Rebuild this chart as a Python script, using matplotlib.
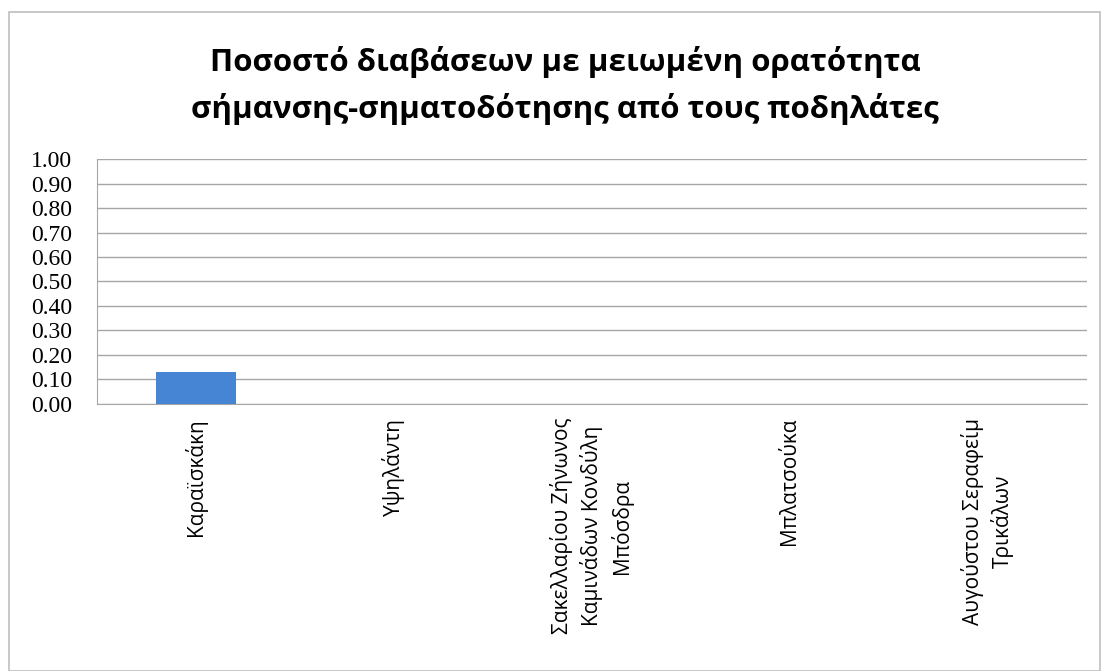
import matplotlib.pyplot as plt
from matplotlib.patches import Rectangle

# Διασταυρώσεις και ποσοστό με μειωμένη ορατότητα
diaviseis = ['Καραϊσκάκη', 'Υψηλάντη',
             'Σακελλαρίου Ζήνωνος\nΚαμινάδων Κονδύλη\nΜπόσδρα',
             'Μπλατσούκα', 'Αυγούστου Σεραφείμ\nΤρικάλων']
pososto = [0.13, 0.0, 0.0, 0.0, 0.0]
y_ticks = [0.0, 0.1, 0.2, 0.3, 0.4, 0.5, 0.6, 0.7, 0.8, 0.9, 1.0]

fig = plt.figure(figsize=(11.02, 6.71), dpi=100)
ax = fig.add_axes([0.088, 0.398, 0.898, 0.365])

# πλαίσιο γύρω από το γράφημα
fig.patches.append(Rectangle((0.008, 0.0), 0.99, 0.982, transform=fig.transFigure,
                             fill=False, edgecolor='#bfbfbf', linewidth=1.2))

x = range(len(diaviseis))
ax.bar(x, pososto, width=0.4, color='#4585d3', linewidth=0, zorder=3)

ax.set_xlim(-0.5, len(diaviseis) - 0.5)
ax.set_ylim(0, 1.0)
ax.set_yticks(y_ticks)
ax.set_yticklabels([f'{v:.2f}' for v in y_ticks], family='Liberation Serif', fontsize=17)
ax.set_xticks(list(x))
ax.set_xticklabels(diaviseis, rotation=90, va='top', ha='center',
                   family='Open Sans', fontsize=15, linespacing=1.4)
ax.tick_params(axis='x', length=0, pad=10)
ax.tick_params(axis='y', length=0, pad=18)

ax.grid(axis='y', color='#a6a6a6', linewidth=1, zorder=0)
for s in ['top', 'right']:
    ax.spines[s].set_visible(False)
ax.spines['left'].set_color('#a6a6a6')
ax.spines['bottom'].set_color('#a6a6a6')

fig.text(0.513, 0.908, 'Ποσοστό διαβάσεων με μειωμένη ορατότητα',
         ha='center', va='center', fontsize=22.5, fontweight='bold', family='Open Sans')
fig.text(0.513, 0.837, 'σήμανσης-σηματοδότησης από τους ποδηλάτες',
         ha='center', va='center', fontsize=22.5, fontweight='bold', family='Open Sans')

fig.savefig('out.png', dpi=100, facecolor='white')
